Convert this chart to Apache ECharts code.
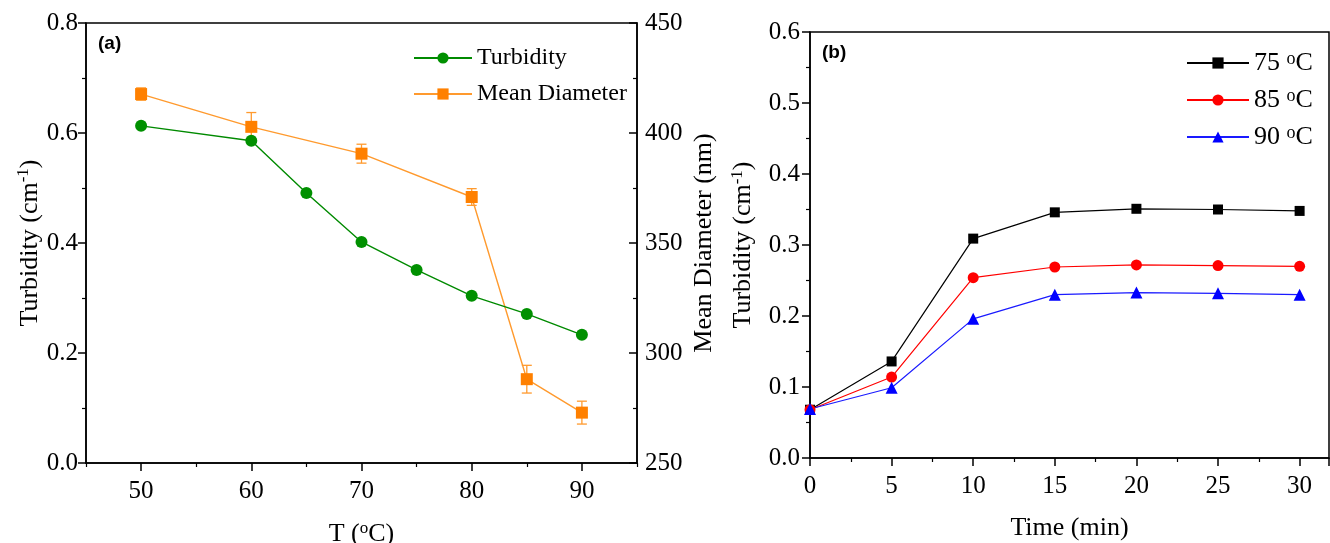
<!DOCTYPE html>
<html><head><meta charset="utf-8">
<script src="https://cdn.jsdelivr.net/npm/echarts@6/dist/echarts.min.js"></script>
<style>html,body{margin:0;padding:0;background:#fff}#c{width:1330px;height:543px}</style>
</head><body><div id="c"></div>
<script>
// ---- Panel (a) data ----
const tempsA = [50, 60, 65, 70, 75, 80, 85, 90];
const turbidityA = [0.613, 0.586, 0.491, 0.402, 0.351, 0.304, 0.271, 0.233];
const diamTemps = [50, 60, 70, 80, 85, 90];
const meanDiameter = [417.7, 402.8, 390.6, 370.9, 288.1, 272.9];
const diameterErr = [2.8, 6.5, 4.3, 3.8, 6.3, 5.2];
const xMajorA = [50, 60, 70, 80, 90];
const xMinorA = [45, 55, 65, 75, 85, 95];
// ---- Panel (b) data ----
const timeB = [0, 5, 10, 15, 20, 25, 30];
const turb75 = [0.068, 0.136, 0.309, 0.346, 0.351, 0.350, 0.348];
const turb85 = [0.068, 0.114, 0.254, 0.269, 0.272, 0.271, 0.270];
const turb90 = [0.069, 0.099, 0.196, 0.230, 0.233, 0.232, 0.230];
const legendB = ['75', '85', '90'];

const FONT = "'Liberation Serif','Times New Roman',serif";
const supRich = {
  sup: { fontFamily: FONT, fontSize: 17, verticalAlign: 'top', padding: [0, 0, 12, 0], color: '#000' }
};
const axisLineStyle = { lineStyle: { color: '#000', width: 1.5 } };

const chart = echarts.init(document.getElementById('c'));
const zip = (xs, ys) => xs.map((x, i) => [x, ys[i]]);

const option = {
  animation: false,
  backgroundColor: '#fff',
  textStyle: { fontFamily: FONT },
  grid: [
    { left: 86, top: 23, width: 551, height: 440, show: true, borderColor: '#000', borderWidth: 1.5, containLabel: false, outerBoundsMode: 'none' },
    { left: 810, top: 32, width: 519, height: 426, show: true, borderColor: '#000', borderWidth: 1.5, containLabel: false, outerBoundsMode: 'none' }
  ],
  xAxis: [
    {
      type: 'value', gridIndex: 0, min: 45, max: 95, interval: 5,
      axisLine: axisLineStyle, splitLine: { show: false },
      axisTick: { inside: false, length: 8, customValues: xMajorA, lineStyle: { color: '#000', width: 1.5 } },
      axisLabel: { margin: 16, fontSize: 25, color: '#000', fontFamily: FONT, customValues: xMajorA },
      name: 'T ({sup|o}C)', nameLocation: 'middle', nameGap: 57,
      nameTextStyle: { fontSize: 26, color: '#000', fontFamily: FONT, rich: supRich }
    },
    {
      type: 'value', gridIndex: 1, min: 0, max: 31.8, interval: 5,
      axisLine: axisLineStyle, splitLine: { show: false },
      axisTick: { inside: false, length: 8, lineStyle: { color: '#000', width: 1.5 } },
      minorTick: { show: true, splitNumber: 2, length: 4, lineStyle: { color: '#000', width: 1.2 } },
      axisLabel: { margin: 16, fontSize: 25, color: '#000', fontFamily: FONT, showMaxLabel: false },
      name: 'Time (min)', nameLocation: 'middle', nameGap: 57,
      nameTextStyle: { fontSize: 26, color: '#000', fontFamily: FONT }
    },
    {
      type: 'value', gridIndex: 0, min: 45, max: 95, interval: 5, position: 'bottom',
      axisLine: { show: false }, splitLine: { show: false },
      axisTick: { inside: false, length: 4, customValues: xMinorA, lineStyle: { color: '#000', width: 1.2 } },
      axisLabel: { show: false }
    }
  ],
  yAxis: [
    {
      type: 'value', gridIndex: 0, min: 0, max: 0.8, interval: 0.2,
      axisLine: { show: true, lineStyle: { color: '#000', width: 1.5 } }, splitLine: { show: false },
      axisTick: { inside: false, length: 8, lineStyle: { color: '#000', width: 1.5 } },
      minorTick: { show: true, splitNumber: 2, length: 4, lineStyle: { color: '#000', width: 1.2 } },
      axisLabel: { margin: 8, fontSize: 25, color: '#000', fontFamily: FONT, formatter: v => v.toFixed(1) },
      name: 'Turbidity (cm{sup|-1})', nameLocation: 'middle', nameGap: 39,
      nameTextStyle: { fontSize: 26, color: '#000', fontFamily: FONT, rich: supRich }
    },
    {
      type: 'value', gridIndex: 0, position: 'right', min: 250, max: 450, interval: 50,
      axisLine: { show: true, lineStyle: { color: '#000', width: 1.5 } }, splitLine: { show: false },
      axisTick: { inside: true, length: 8, lineStyle: { color: '#000', width: 1.5 } },
      minorTick: { show: true, splitNumber: 2, length: 4, lineStyle: { color: '#000', width: 1.2 } },
      axisLabel: { margin: 8, fontSize: 25, color: '#000', fontFamily: FONT },
      name: 'Mean Diameter (nm)', nameLocation: 'middle', nameGap: 54,
      nameTextStyle: { fontSize: 26, color: '#000', fontFamily: FONT }
    },
    {
      type: 'value', gridIndex: 1, min: 0, max: 0.6, interval: 0.1,
      axisLine: { show: true, lineStyle: { color: '#000', width: 1.5 } }, splitLine: { show: false },
      axisTick: { inside: false, length: 8, lineStyle: { color: '#000', width: 1.5 } },
      minorTick: { show: true, splitNumber: 2, length: 4, lineStyle: { color: '#000', width: 1.2 } },
      axisLabel: { margin: 10, fontSize: 25, color: '#000', fontFamily: FONT, formatter: v => v.toFixed(1) },
      name: 'Turbidity (cm{sup|-1})', nameLocation: 'middle', nameGap: 52,
      nameTextStyle: { fontSize: 26, color: '#000', fontFamily: FONT, rich: supRich }
    }
  ],
  legend: [
    {
      orient: 'vertical', left: 408, top: 41, itemGap: 12, itemWidth: 58, itemHeight: 14,
      data: ['Turbidity', 'Mean Diameter'],
      textStyle: { fontSize: 24, color: '#000', fontFamily: FONT, lineHeight: 24 }
    },
    {
      orient: 'vertical', left: 1181, top: 45, itemGap: 11, itemWidth: 62, itemHeight: 14,
      data: legendB.map(t => t + ' \u00b0C'),
      formatter: name => name.replace(' \u00b0C', ' {sup|o}C'),
      textStyle: { fontSize: 26, color: '#000', fontFamily: FONT, lineHeight: 26,
        rich: { sup: { fontFamily: FONT, fontSize: 18, verticalAlign: 'top', padding: [0, 0, 11, 0], color: '#000' } } }
    }
  ],
  graphic: [
    { type: 'text', left: 98, top: 34, style: { text: '(a)', font: "bold 19px 'Liberation Sans', Arial, sans-serif", fill: '#000' } },
    { type: 'text', left: 822, top: 43, style: { text: '(b)', font: "bold 19px 'Liberation Sans', Arial, sans-serif", fill: '#000' } }
  ],
  series: [
    {
      name: 'Mean Diameter', type: 'line', xAxisIndex: 0, yAxisIndex: 1,
      data: zip(diamTemps, meanDiameter), symbol: 'rect', symbolSize: 12,
      lineStyle: { color: '#ff9a2e', width: 1.4 }, itemStyle: { color: '#ff8000' }, z: 3
    },
    {
      name: 'Mean Diameter err', type: 'custom', xAxisIndex: 0, yAxisIndex: 1,
      data: diamTemps.map((t, i) => [t, meanDiameter[i] - diameterErr[i], meanDiameter[i] + diameterErr[i]]),
      renderItem: (params, api) => {
        const x = api.value(0);
        const lo = api.coord([x, api.value(1)]);
        const hi = api.coord([x, api.value(2)]);
        const w = 5;
        const st = { stroke: '#ff9a2e', lineWidth: 1.3 };
        return { type: 'group', children: [
          { type: 'line', shape: { x1: lo[0], y1: lo[1], x2: hi[0], y2: hi[1] }, style: st },
          { type: 'line', shape: { x1: lo[0] - w, y1: lo[1], x2: lo[0] + w, y2: lo[1] }, style: st },
          { type: 'line', shape: { x1: hi[0] - w, y1: hi[1], x2: hi[0] + w, y2: hi[1] }, style: st }
        ] };
      },
      z: 2, silent: true
    },
    {
      name: 'Turbidity', type: 'line', xAxisIndex: 0, yAxisIndex: 0,
      data: zip(tempsA, turbidityA), symbol: 'circle', symbolSize: 12,
      lineStyle: { color: '#008a00', width: 1.4 }, itemStyle: { color: '#009000' }, z: 4
    },
    {
      name: legendB[0] + ' \u00b0C', type: 'line', xAxisIndex: 1, yAxisIndex: 2,
      data: zip(timeB, turb75), symbol: 'rect', symbolSize: 10,
      lineStyle: { color: '#000', width: 1.2 }, itemStyle: { color: '#000' }
    },
    {
      name: legendB[1] + ' \u00b0C', type: 'line', xAxisIndex: 1, yAxisIndex: 2,
      data: zip(timeB, turb85), symbol: 'circle', symbolSize: 11,
      lineStyle: { color: '#ff0000', width: 1.2 }, itemStyle: { color: '#ff0000' }
    },
    {
      name: legendB[2] + ' \u00b0C', type: 'line', xAxisIndex: 1, yAxisIndex: 2,
      data: zip(timeB, turb90), symbol: 'triangle', symbolSize: 12,
      lineStyle: { color: '#1a1aff', width: 1.2 }, itemStyle: { color: '#0000ff' }
    }
  ]
};
chart.setOption(option);
</script></body></html>
